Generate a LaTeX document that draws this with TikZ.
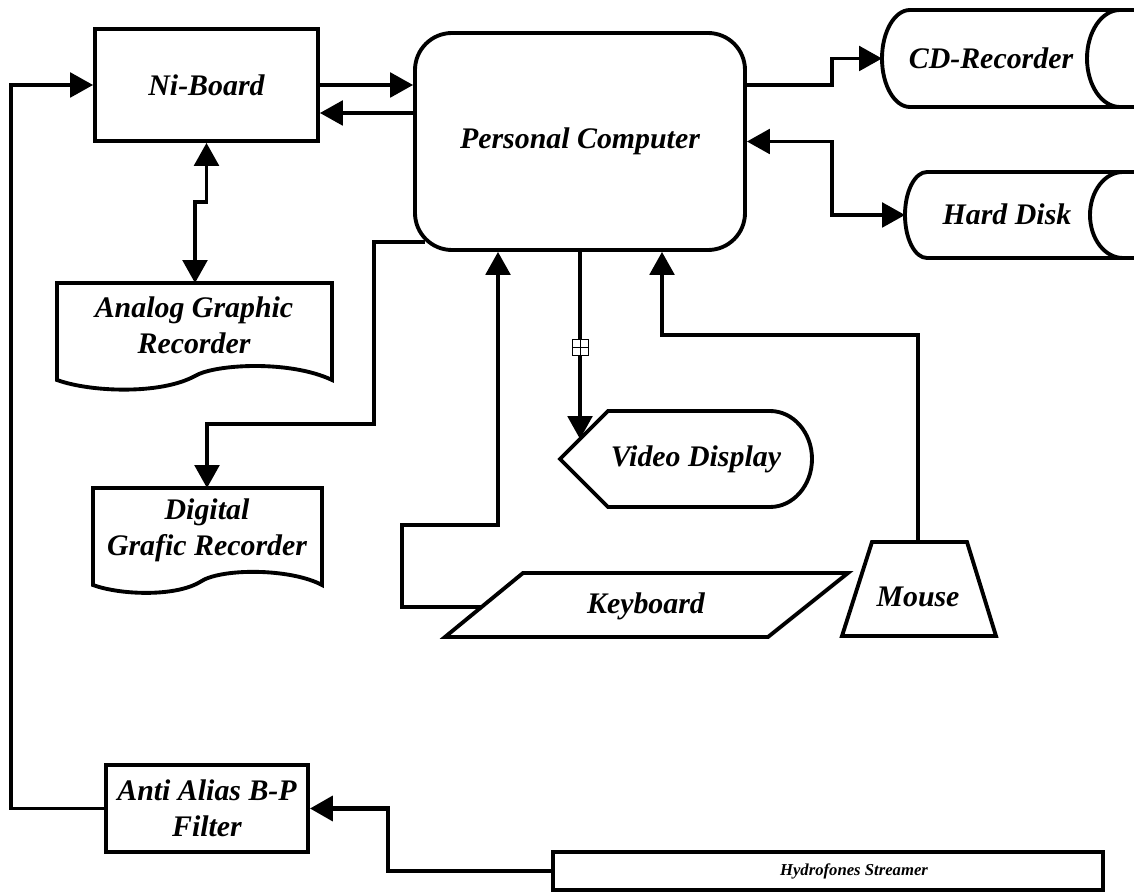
\documentclass[tikz,border=0pt]{standalone}
\usepackage{fontspec}
\setmainfont{Liberation Serif}
\usetikzlibrary{arrows.meta}
\tikzset{
lbl/.style={font=\fontsize{17}{20.5}\selectfont\bfseries\itshape, align=center, inner sep=0pt},
outline/.style={line width=2.2pt, line join=miter},
conn/.style={line width=1.9pt},
arr/.style={conn, -{Triangle[length=13pt,width=14pt]}},
arrs/.style={conn, {Triangle[length=13pt,width=14pt]}-{Triangle[length=13pt,width=14pt]}}}

\begin{document}
\begin{tikzpicture}[x=0.2mm, y=-0.2mm]
    \useasboundingbox (0,0) rectangle (1134,892);

    % boxes
    \node[outline, draw, lbl, minimum width=44.6mm, minimum height=22.4mm] (niboard) at (206.5,85) {Ni-Board};
    \node[outline, draw, lbl, rounded corners=7.4mm, minimum width=66mm, minimum height=43.4mm] (pc) at (580,141.5) {Personal Computer};
    \node[outline, draw, lbl, minimum width=40.4mm, minimum height=17.4mm] (filter) at (207,808.5) {Anti Alias B-P\\Filter};
    \node[outline, draw, minimum width=110mm, minimum height=7.6mm] (hydro) at (828,871) {};
    \node[font=\fontsize{9.5}{11}\selectfont\bfseries\itshape] (hydrotext) at (854,871) {Hydrofones Streamer};

    % recorders (document shapes)
    \draw[outline] (57,283) -- (332,283) -- (332,380) .. controls (290,360) and (215,364) .. (195,376) .. controls (160,395) and (90,392) .. (57,380) -- cycle;
    \node[lbl] (analog) at (194,325) {Analog Graphic\\Recorder};
    \coordinate (analog-in) at (195,283);
    \draw[outline] (93,488) -- (322,488) -- (322,585) .. controls (290,568) and (220,568) .. (200,582) .. controls (175,597) and (120,595) .. (93,585) -- cycle;
    \node[lbl] (digital) at (207,530) {Digital\\Grafic Recorder};
    \coordinate (digital-in) at (207,488);

    % storage
    \draw[outline] (1134,10) -- (910,10) arc[start angle=90, end angle=270, x radius=5.6mm, y radius=9.7mm] -- (1134,107);
    \draw[outline] (1120,10) arc[start angle=90, end angle=270, x radius=6.6mm, y radius=9.7mm];
    \node[lbl] (cd) at (991,58) {CD-Recorder};
    \coordinate (cd-in) at (882,58.5);
    \draw[outline] (1134,172) -- (927,172) arc[start angle=90, end angle=270, x radius=4.4mm, y radius=8.6mm] -- (1134,258);
    \draw[outline] (1123,172) arc[start angle=90, end angle=270, x radius=6.6mm, y radius=8.6mm];
    \node[lbl] (hd) at (1007,214) {Hard Disk};
    \coordinate (hd-in) at (905,215);

    % display, keyboard, mouse
    \draw[outline] (560,459) -- (608,411) -- (770,411) arc[start angle=90, end angle=-90, x radius=8.4mm, y radius=9.6mm] -- (608,507) -- cycle;
    \node[lbl] (video) at (696,459) {Video Display};
    \coordinate (video-in) at (580,439);
    \draw[outline] (445,637) -- (523,573) -- (848,573) -- (768,637) -- cycle;
    \node[lbl] (keyboard) at (646,606) {Keyboard};
    \coordinate (keyboard-in) at (482,607);
    \draw[outline] (872,542) -- (967,542) -- (996,636) -- (842,636) -- cycle;
    \node[lbl] (mouse) at (918,597) {Mouse};
    \coordinate (mouse-in) at (918,542);

    % connectors
    \coordinate (nb-back) at ([yshift=-5.6mm]niboard.east);
    \draw[arr] (filter.west) -- ++(-93,0) |- (niboard.west);
    \draw[arr] (niboard.east) -- (niboard.east -| pc.west);
    \draw[arr] (nb-back -| pc.west) -- (nb-back);
    \draw[arrs] (niboard.south) -- ++(0,59) -- ++(-11.5,0) -- (analog-in);
    \draw[arr] (pc.east |- niboard.east) -- ++(85,0) |- (cd-in);
    \draw[arrs] (pc.east) -- ++(85,0) |- (hd-in);
    \draw[arr] ([xshift=2.3mm,yshift=2mm]pc.south west) -- ++(-50.5,0) -- ++(0,182) -| (digital-in);
    \draw[arr] (keyboard-in) -- ++(-80,0) -- ++(0,-82) -| ([xshift=-16.4mm]pc.south);
    \draw[arr] (pc.south) -- (video-in);
    \draw[arr] (mouse-in) -- ++(0,-207) -| ([xshift=16.4mm]pc.south);
    \draw[arr, line width=2.6pt] (hydro.west) -- ++(-163,0) |- (filter.east);

    \node[draw, line width=0.5pt, fill=white, minimum size=3.2mm, inner sep=0pt,
      path picture={\draw[line width=0.5pt] (path picture bounding box.north) -- (path picture bounding box.south)
        (path picture bounding box.west) -- (path picture bounding box.east);}] (plug) at (580,347) {};

\end{tikzpicture}
\end{document}
